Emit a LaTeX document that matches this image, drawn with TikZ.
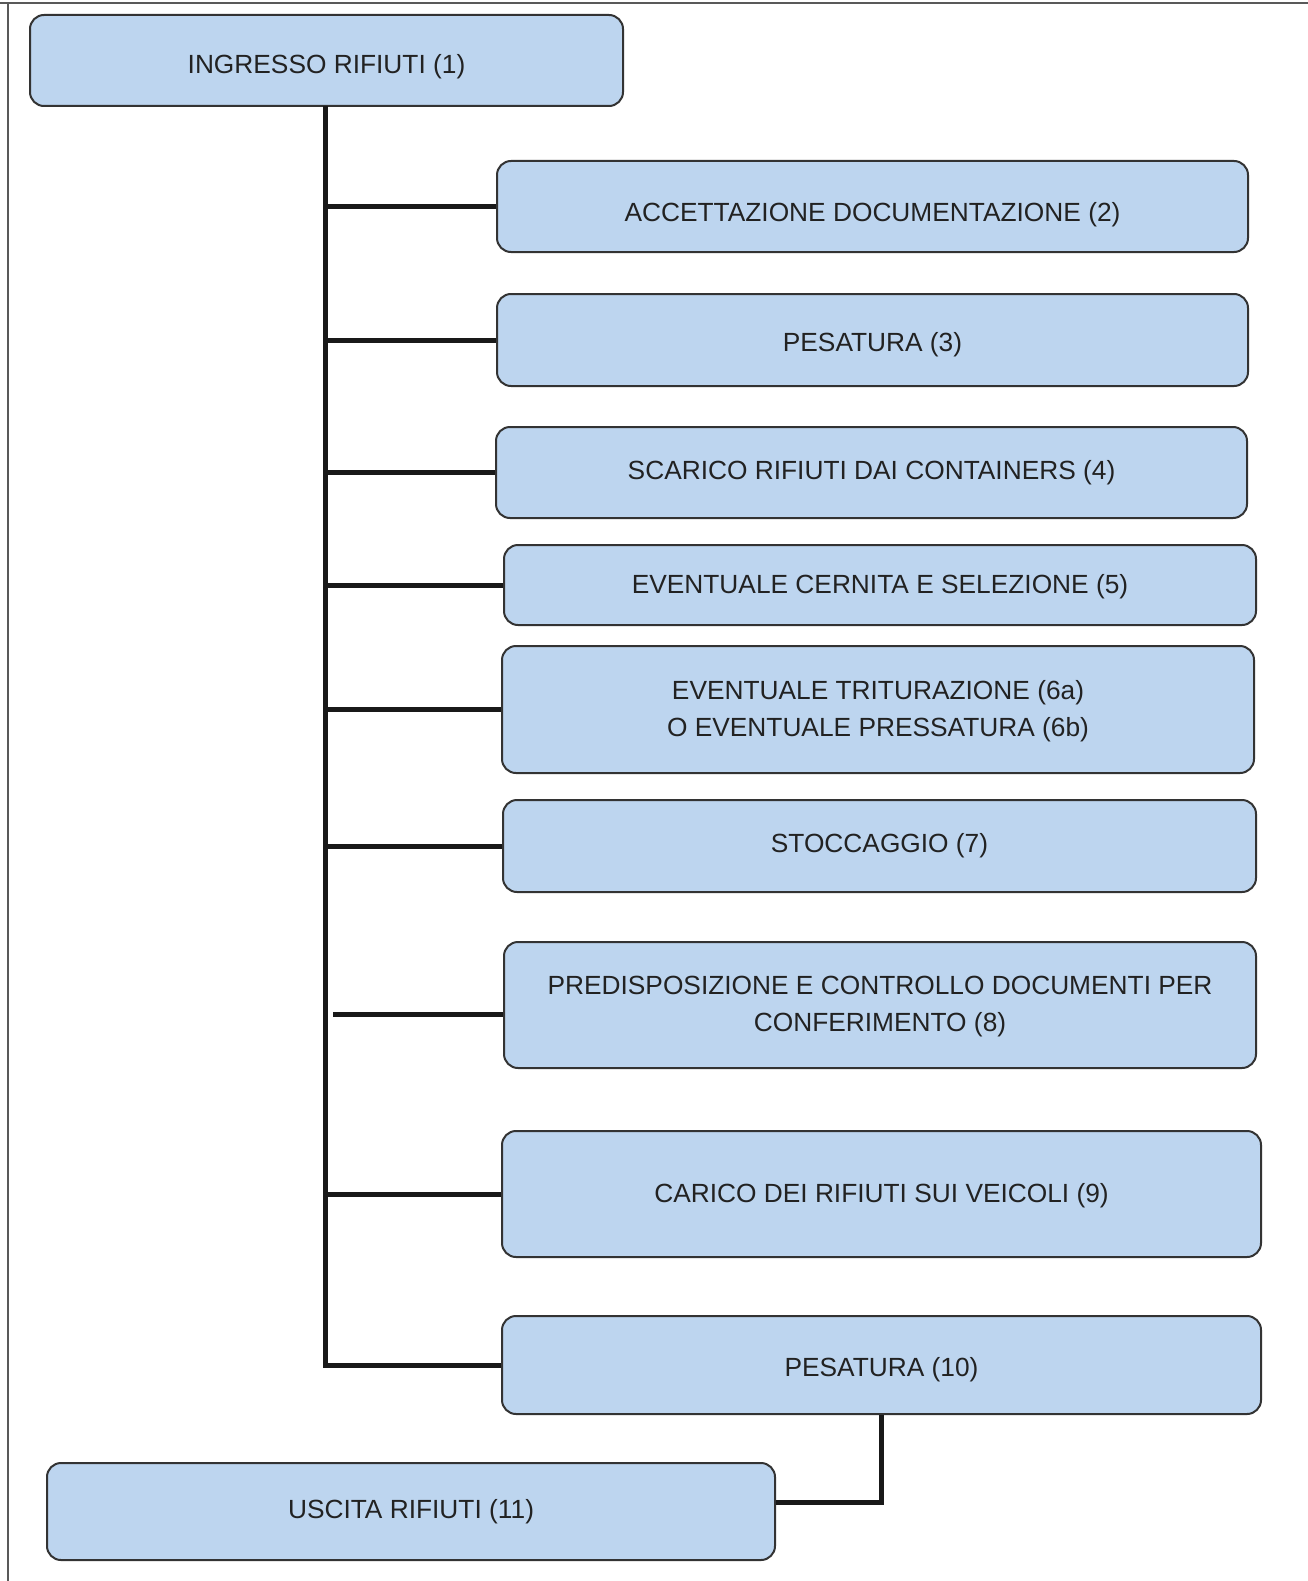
\documentclass[tikz,border=0pt]{standalone}
\usepackage{fontspec}
\setmainfont{Liberation Sans}
\newcommand{\dn}[2]{\raisebox{-#1pt}[\height][\depth]{#2}}
\begin{document}
\begin{tikzpicture}[x=1pt,y=-1pt,
  box/.style={draw=boxline, line width=2pt, fill=boxfill, rounded corners=14pt,
    text=txt, align=center, inner sep=0pt,
    font=\fontsize{26.3}{40}\selectfont},
  conn/.style={draw=black!90, line width=5pt},
  frame/.style={draw=black!65, line width=2pt}]
\definecolor{boxfill}{HTML}{BDD5EF}
\definecolor{boxline}{HTML}{333333}
\definecolor{txt}{HTML}{222222}
\useasboundingbox (0,0) rectangle (1308,1581);
\fill[white] (0,0) rectangle (1308,1581);
\draw[frame] (0,3) -- (1308,3);
\draw[frame] (8,3) -- (8,1581);

\node[box, minimum width=593pt, minimum height=91pt] (b1) at (326.5,60.5) {\dn{6}{INGRESSO RIFIUTI (1)}};
\node[box, minimum width=751pt, minimum height=91pt] (b2) at (872.5,206.5) {\dn{8}{ACCETTAZIONE DOCUMENTAZIONE (2)}};
\node[box, minimum width=751pt, minimum height=92pt] (b3) at (872.5,340) {\dn{5}{PESATURA (3)}};
\node[box, minimum width=751pt, minimum height=91pt] (b4) at (871.5,472.5) {SCARICO RIFIUTI DAI CONTAINERS (4)};
\node[box, minimum width=752pt, minimum height=80pt] (b5) at (880,585) {\dn{2}{EVENTUALE CERNITA E SELEZIONE (5)}};
\node[box, minimum width=752pt, minimum height=127pt] (b6) at (878,709.5) {\dn{3}{EVENTUALE TRITURAZIONE (6a)}\\O EVENTUALE PRESSATURA (6b)};
\node[box, minimum width=753pt, minimum height=92pt] (b7) at (879.5,846) {STOCCAGGIO (7)};
\node[box, minimum width=752pt, minimum height=126pt] (b8) at (880,1005) {\dn{3}{PREDISPOSIZIONE E CONTROLLO DOCUMENTI PER}\\CONFERIMENTO (8)};
\node[box, minimum width=759pt, minimum height=126pt] (b9) at (881.5,1194) {\dn{2}{CARICO DEI RIFIUTI SUI VEICOLI (9)}};
\node[box, minimum width=759pt, minimum height=98pt] (b10) at (881.5,1365) {\dn{5}{PESATURA (10)}};
\node[box, minimum width=728pt, minimum height=97pt] (b11) at (411,1511.5) {USCITA RIFIUTI (11)};

\coordinate (t) at (325,106);
\draw[conn] (t) |- (b10.west);
\foreach \b in {b2,b3,b4,b5,b6,b7,b9}{
  \draw[conn] (\b.west) -- (\b.west -| t);
}
\draw[conn] ([yshift=-9pt]b8.west) -- ([xshift=8pt,yshift=-9pt]b8.west -| t);
\draw[conn] (b10.south) |- ([yshift=9pt]b11.east);
\end{tikzpicture}
\end{document}
